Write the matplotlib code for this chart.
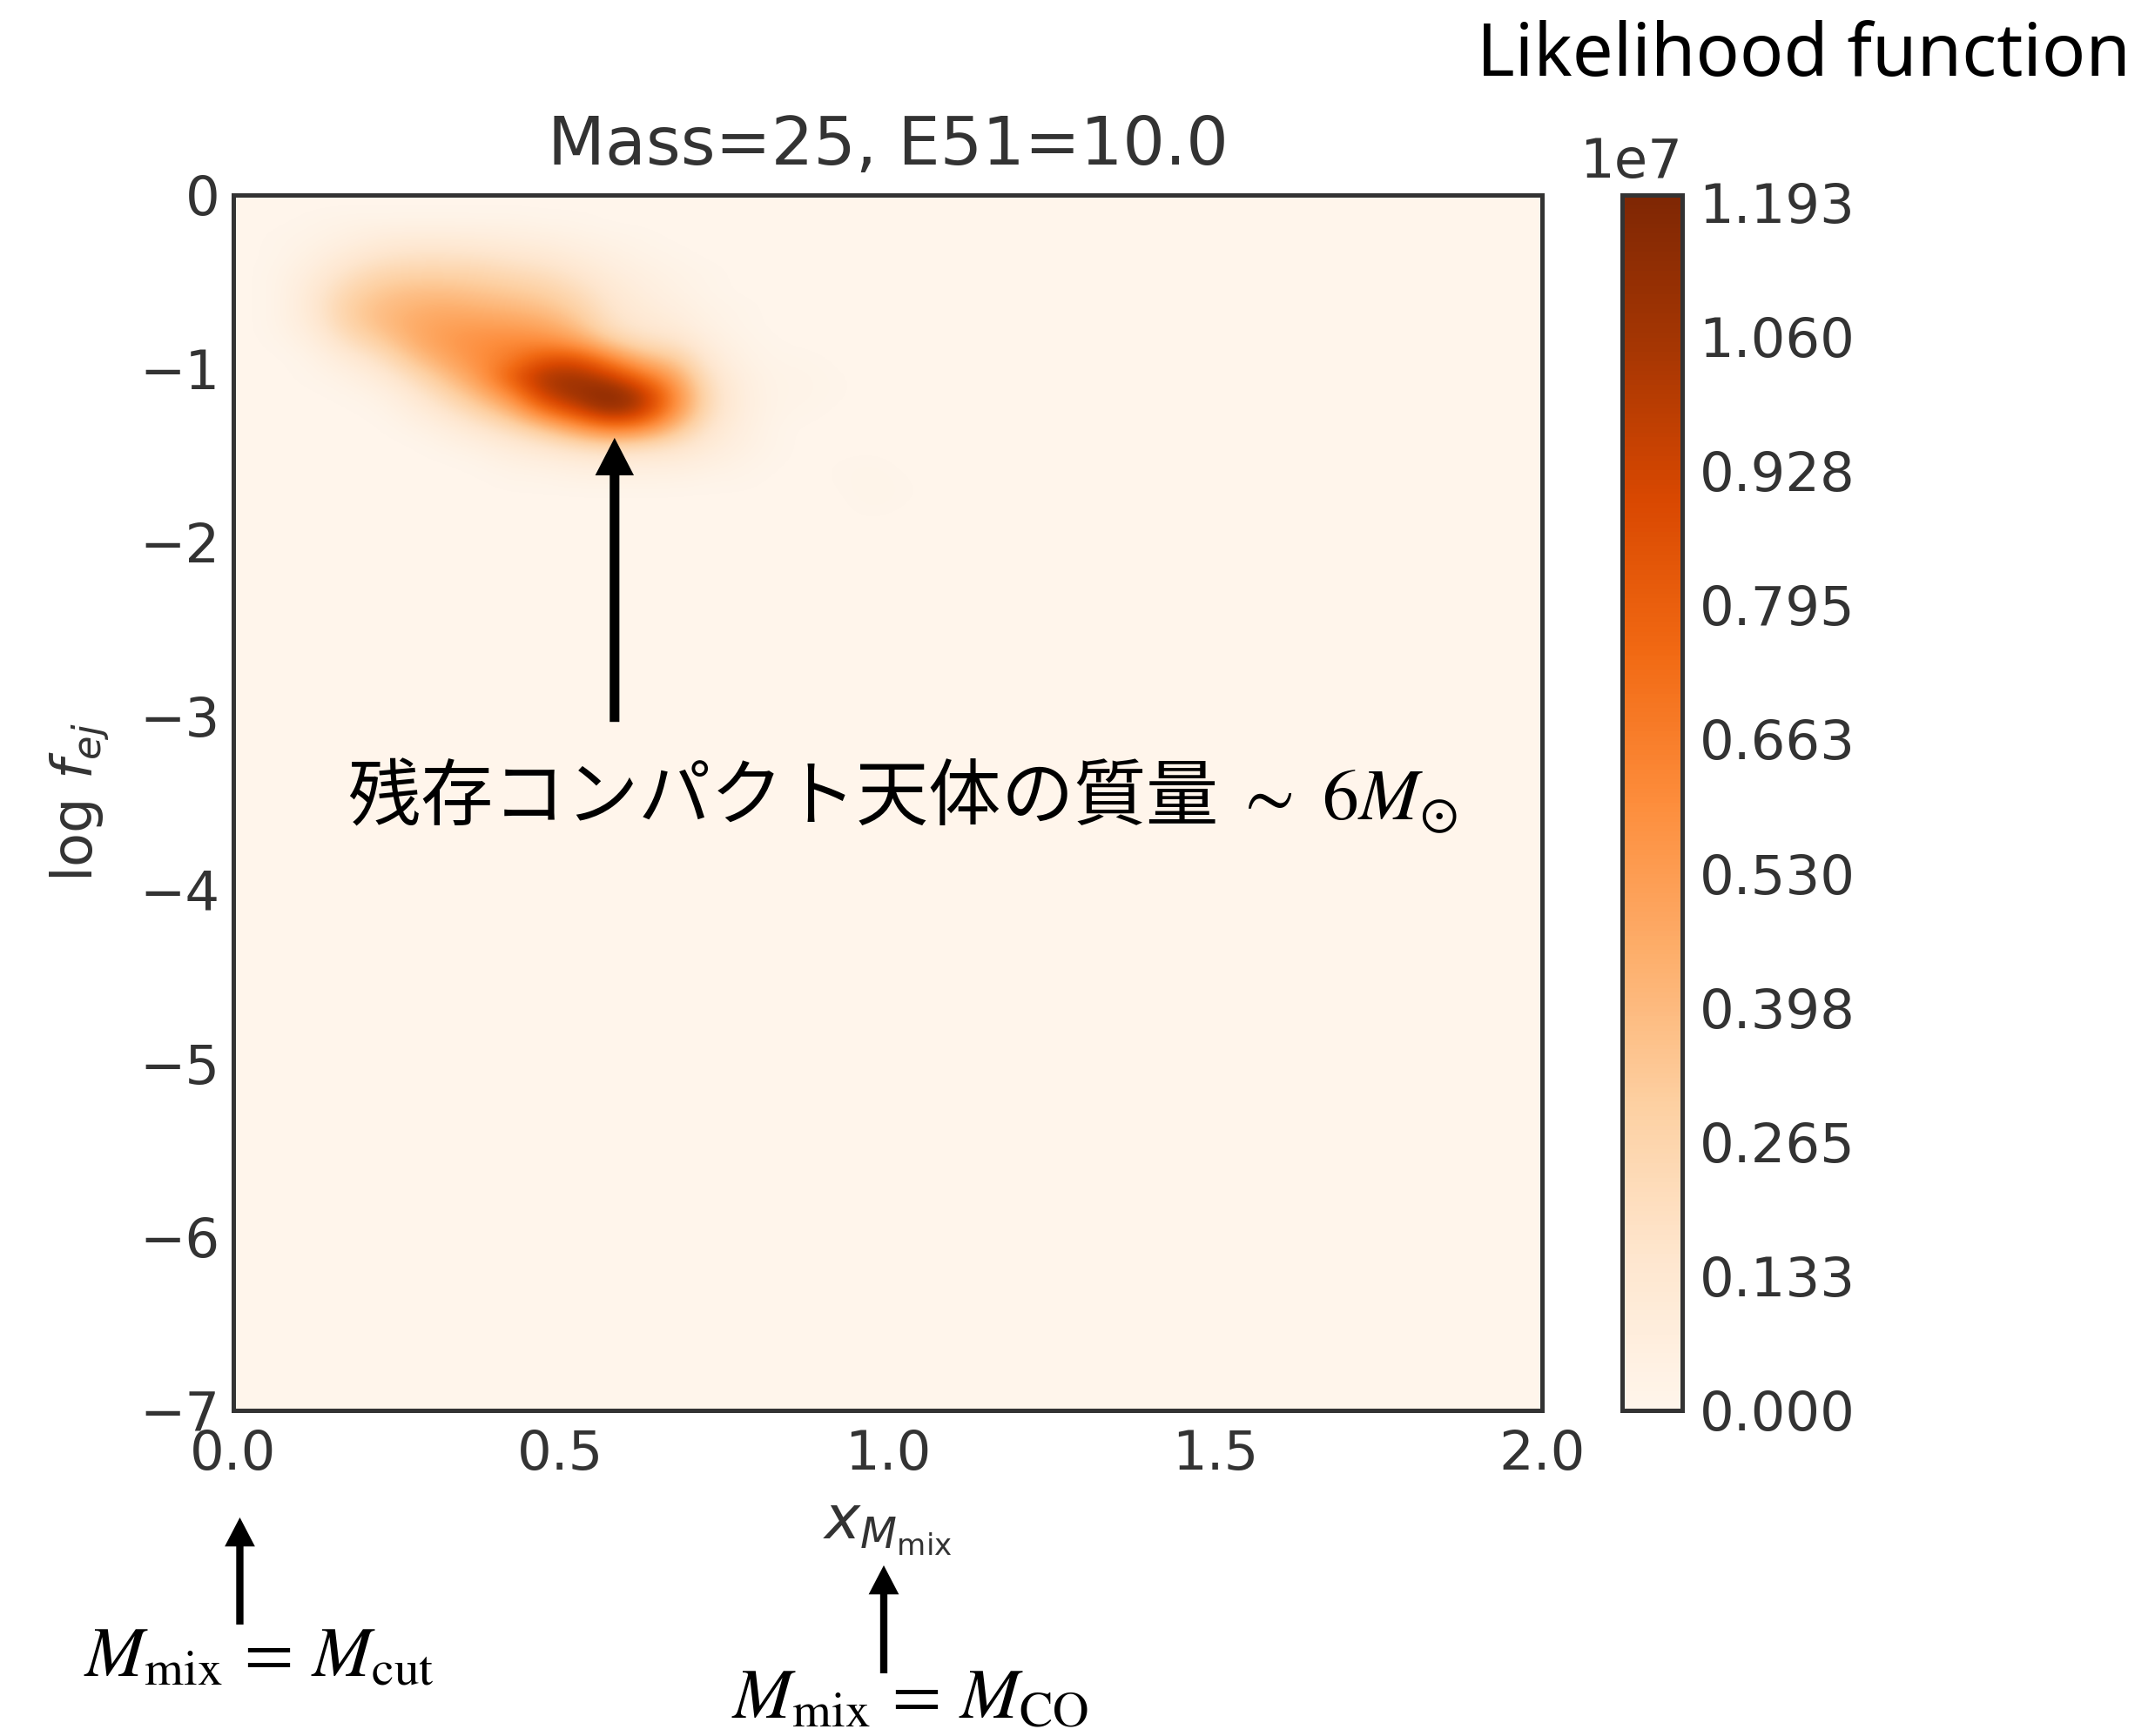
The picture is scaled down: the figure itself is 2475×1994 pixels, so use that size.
import numpy as np
import matplotlib
matplotlib.use("Agg")
import matplotlib.pyplot as plt

# likelihood grid: x_Mmix 0..2 (0.05 steps), log f_ej 0..-7 (0.1 steps)
n_x, n_y = 40, 70
x_range = (0.0, 2.0)
y_range = (-7.0, 0.0)
peak_likelihood = 1.193e7
cbar_max = 1.2e7

# non-zero part of the grid, in percent of the peak
# rows: log f_ej = -0.15 ... -1.95, cols: x = 0.075 ... 1.025
patch_row0, patch_col0 = 1, 1
likelihood_pct = [
    [0, 1, 2, 2, 2, 2, 2, 2, 1, 1, 0, 0, 0, 0, 0, 0, 0, 0, 0, 0],
    [1, 2, 4, 7, 8, 8, 7, 6, 5, 3, 2, 1, 0, 0, 0, 0, 0, 0, 0, 0],
    [1, 4, 9, 13, 15, 15, 14, 12, 10, 7, 4, 2, 1, 0, 0, 0, 0, 0, 0, 0],
    [2, 7, 15, 21, 23, 23, 22, 19, 17, 12, 7, 4, 2, 1, 0, 0, 0, 0, 0, 0],
    [2, 10, 21, 28, 31, 31, 29, 27, 24, 18, 10, 6, 3, 1, 0, 0, 0, 0, 0, 0],
    [2, 11, 25, 32, 36, 38, 36, 34, 31, 24, 13, 8, 5, 2, 1, 0, 0, 0, 0, 0],
    [2, 9, 23, 32, 39, 43, 44, 43, 40, 31, 16, 11, 8, 3, 1, 0, 0, 0, 0, 0],
    [1, 5, 16, 25, 37, 45, 49, 52, 52, 45, 28, 18, 15, 6, 2, 0.5, 0, 0, 0, 0],
    [0, 2, 8, 15, 29, 40, 50, 57, 72, 74, 55, 36, 28, 10, 3, 1, 1, 0, 0, 0],
    [0, 1, 3, 8, 18, 31, 45, 68, 88, 90, 82, 62, 42, 15, 5, 1.5, 1.5, 0.5, 0, 0],
    [0, 0, 1, 3, 10, 21, 34, 52, 82, 92, 100, 86, 52, 18, 6, 1.5, 1.5, 0.5, 0, 0],
    [0, 0, 0, 1, 5, 12, 22, 34, 58, 75, 92, 82, 48, 17, 6, 1.5, 1, 0, 0, 0],
    [0, 0, 0, 0, 2, 5, 11, 18, 28, 42, 55, 50, 30, 12, 5, 1, 0, 0, 0, 0],
    [0, 0, 0, 0, 0, 2, 4, 8, 12, 17, 21, 18, 14, 8, 4, 1, 0, 0, 0, 0],
    [0, 0, 0, 0, 0, 0, 1, 3, 4, 6, 7, 6, 6, 4, 2, 0.5, 0, 0.5, 1, 0],
    [0, 0, 0, 0, 0, 0, 0, 1, 1, 2, 2, 2, 2, 1, 1, 0, 0, 0.5, 1.5, 0.5],
    [0, 0, 0, 0, 0, 0, 0, 0, 0, 0, 0, 0, 0, 0, 0, 0, 0, 0, 1.5, 0.5],
    [0, 0, 0, 0, 0, 0, 0, 0, 0, 0, 0, 0, 0, 0, 0, 0, 0, 0, 0.5, 0],
    [0, 0, 0, 0, 0, 0, 0, 0, 0, 0, 0, 0, 0, 0, 0, 0, 0, 0, 0, 0],
]

x_ticks = [0.0, 0.5, 1.0, 1.5, 2.0]
y_ticks = [0, -1, -2, -3, -4, -5, -6, -7]
cbar_ticks = np.linspace(0, peak_likelihood, 10)

title = "Mass=25, E51=10.0"
note_jp = r"残存コンパクト天体の質量 $\sim\ \mathit{6M}_{\odot}$"


def main():
    plt.rcParams['font.family'] = ['DejaVu Sans']
    grey = '0.2'

    Z = np.zeros((n_y, n_x))
    patch = np.array(likelihood_pct) / 100.0 * peak_likelihood
    Z[patch_row0:patch_row0 + patch.shape[0],
      patch_col0:patch_col0 + patch.shape[1]] = patch

    fig = plt.figure(figsize=(24.75, 19.94), dpi=100)
    ax = fig.add_axes([0.1083, 0.1876, 0.6073, 0.7001])
    cax = fig.add_axes([0.7527, 0.1876, 0.0279, 0.7001])

    im = ax.imshow(Z, extent=[*x_range, *y_range], origin='upper',
                   aspect='auto', cmap='Oranges', vmin=0, vmax=cbar_max,
                   interpolation='bicubic')
    ax.set_xlim(*x_range)
    ax.set_ylim(*y_range)
    ax.set_xticks(x_ticks)
    ax.set_yticks(y_ticks)
    ax.tick_params(axis='both', length=0, labelsize=45, colors=grey)
    ax.tick_params(axis='x', pad=15)
    ax.tick_params(axis='y', pad=11)
    for s in ax.spines.values():
        s.set_linewidth(3.6)
        s.set_edgecolor(grey)

    ax.set_title(title, fontsize=55, color=grey, pad=25)
    ax.set_xlabel(r"$x_{M_{\rm mix}}$", fontsize=50, color=grey)
    ax.xaxis.set_label_coords(0.5, -0.073)
    ax.set_ylabel(r"$\log\, f_{ej}$", fontsize=46, color=grey)
    ax.yaxis.set_label_coords(-0.093, 0.5)

    cb = fig.colorbar(im, cax=cax)
    cb.set_ticks(cbar_ticks, labels=[f"{t / 1e7:.3f}" for t in cbar_ticks])
    cb.outline.set_linewidth(3.6)
    cb.outline.set_edgecolor(grey)
    cax.tick_params(length=0, pad=14, labelsize=45, colors=grey)
    cax.text(1.0, 1.014, "1e7", transform=cax.transAxes, ha='right',
             va='baseline', fontsize=45, color=grey)

    # annotations
    big_arrow = dict(arrowstyle='simple,head_length=31,head_width=32,tail_width=8',
                     mutation_scale=1, fc='k', ec='none', shrinkA=0, shrinkB=0)
    small_arrow = dict(arrowstyle='simple,head_length=24,head_width=25,tail_width=6',
                       mutation_scale=1, fc='k', ec='none', shrinkA=0, shrinkB=0)
    ax.annotate('', xy=(0.5825, -1.399), xytext=(0.5825, -3.035),
                arrowprops=big_arrow)
    ax.text(0.174, -3.597, note_jp, fontsize=60, family=['Noto Sans CJK JP'],
            math_fontfamily='stix', ha='left', va='baseline', color='k')

    ax.annotate('', xy=(0.1113, 0.1259), xytext=(0.1113, 0.0642),
                xycoords='figure fraction', textcoords='figure fraction',
                arrowprops=small_arrow, annotation_clip=False)
    ax.annotate('', xy=(0.4101, 0.0983), xytext=(0.4101, 0.0361),
                xycoords='figure fraction', textcoords='figure fraction',
                arrowprops=small_arrow, annotation_clip=False)
    fig.text(0.1202, 0.0341, r"$M_{\rm mix}\,=\,M_{\rm cut}$", fontsize=59,
             math_fontfamily='stix', ha='center', va='baseline', color='k')
    fig.text(0.4222, 0.0103, r"$M_{\rm mix}\,=\,M_{\rm CO}$", fontsize=59,
             math_fontfamily='stix', ha='center', va='baseline', color='k')

    fig.text(0.9887, 0.9565, "Likelihood function", fontsize=60,
             family=['Noto Sans'], ha='right', va='baseline', color='k')

    fig.savefig("out.png", dpi=100)


if __name__ == '__main__':
    main()
